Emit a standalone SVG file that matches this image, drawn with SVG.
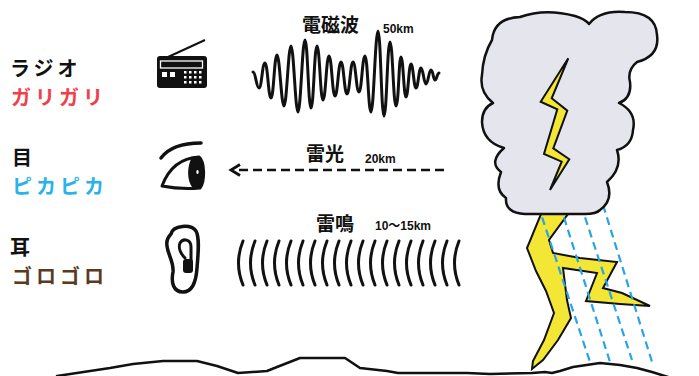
<svg xmlns="http://www.w3.org/2000/svg" width="699" height="376" viewBox="0 0 699 376">
  <style>
    .lbl { font-family: "Noto Sans CJK JP", "Noto Sans", sans-serif; font-weight: 700; font-size: 20px; letter-spacing: 4px; }
    .ttl { font-family: "Noto Sans CJK JP", sans-serif; font-weight: 700; font-size: 19px; fill: #111; }
    .dist { font-family: "Liberation Sans", "Noto Sans CJK JP", sans-serif; font-weight: 700; font-size: 12px; fill: #111; }
    .ink { fill: none; stroke: #111; stroke-linecap: round; stroke-linejoin: round; }
    .bolt { fill: #f4e634; stroke: #111; stroke-width: 2; stroke-linejoin: miter; }
    .rain { fill: none; stroke: #2aa3e6; stroke-width: 2.2; stroke-dasharray: 8 5; }
    .arc { fill: none; stroke: #111; stroke-width: 3; stroke-linecap: round; }
  </style>

  <!-- left labels -->
  <g id="label-radio">
    <text class="lbl" x="10" y="76" fill="#111">ラジオ</text>
    <text class="lbl" x="11" y="105" fill="#f0404a">ガリガリ</text>
  </g>
  <g id="label-eye">
    <text class="lbl" x="12" y="165" fill="#111">目</text>
    <text class="lbl" x="12" y="194" fill="#2cb2ea">ピカピカ</text>
  </g>
  <g id="label-ear">
    <text class="lbl" x="10" y="255" fill="#111">耳</text>
    <text class="lbl" x="12" y="284" fill="#5b3b1f">ゴロゴロ</text>
  </g>

  <!-- radio icon -->
  <g id="radio">
    <line x1="168" y1="57" x2="205" y2="40" stroke="#111" stroke-width="2"/>
    <rect x="157" y="56" width="50" height="32" rx="3" fill="#111"/>
    <rect x="160.5" y="61" width="42" height="7" fill="none" stroke="#fff" stroke-width="1.3"/>
    <rect x="162" y="72" width="5" height="5" fill="#fff"/>
    <rect x="170" y="72" width="5" height="5" fill="#fff"/>
    <g fill="#fff">
      <rect x="184" y="71" width="2.5" height="2.5"/><rect x="189" y="71" width="2.5" height="2.5"/><rect x="194" y="71" width="2.5" height="2.5"/><rect x="199" y="71" width="2.5" height="2.5"/>
      <rect x="184" y="76" width="2.5" height="2.5"/><rect x="189" y="76" width="2.5" height="2.5"/><rect x="194" y="76" width="2.5" height="2.5"/><rect x="199" y="76" width="2.5" height="2.5"/>
      <rect x="184" y="81" width="2.5" height="2.5"/><rect x="189" y="81" width="2.5" height="2.5"/><rect x="194" y="81" width="2.5" height="2.5"/><rect x="199" y="81" width="2.5" height="2.5"/>
    </g>
  </g>

  <!-- eye icon -->
  <g id="eye">
    <path class="ink" d="M161,158 Q172,143 201,143" stroke-width="3.5"/>
    <path d="M191,159 C187,168 187,180 192,187 L200,188 C205,182 205,162 199,157 Z" fill="#111"/>
    <ellipse cx="197.5" cy="172" rx="1.2" ry="2" fill="#fff"/>
    <path class="ink" d="M162,186 C168,170 180,158 199,157 C205,162 205,182 200,188 C188,189 172,188 162,186 Z" stroke-width="3"/>
  </g>

  <!-- ear icon -->
  <g id="ear">
    <path class="ink" d="M171,234 C173,225 191,224 196,231 C200,238 198,255 197,268 C196,283 192,292 183,292 C173,292 171,282 173,272 C174,262 168,255 167,246 C166,240 168,237 171,234 Z" stroke-width="3.5" fill="#fff"/>
    <path class="ink" d="M191,262 L191,247 C191,239 183,238 180,243 C178,248 181,254 185,258" stroke-width="3"/>
    <rect x="183" y="259" width="10" height="14" rx="3" fill="#111"/>
  </g>

  <!-- electromagnetic wave -->
  <g id="em-wave">
    <text class="ttl" x="302" y="32" font-size="20">電磁波</text>
    <text class="dist" x="383" y="33">50km</text>
    <path class="ink" stroke-width="3" d="M253,72 C255.7,72 256.3,88 259,88 S262.3,63 265,63 S268.3,98 271,98 S274.3,55 277,55 S281.3,106 284,106 S288.3,46 291,46 S295.3,112 298,112 S302.3,40 305,40 S308.3,108 311,108 S314.3,46 317,46 S320.3,100 323,100 S326.3,56 329,56 S332.3,96 335,96 S338.3,62 341,62 S344.3,94 347,94 S350.3,62 353,62 S356.3,92 359,92 S362.3,56 365,56 S368.3,112 371,112 S375.3,31 378,31 S381.3,116 384,116 S387.3,42 390,42 S393.3,106 396,106 S398.8,57 401,57 S403.8,97 406,97 S408.8,64 411,64 S413.8,88 416,88 S418.8,68 421,68 S423.8,84 426,84 S428.8,70 431,70 S433.2,80 435,80 S437.2,73 439,73"/>
  </g>

  <!-- light -->
  <g id="light">
    <text class="ttl" x="306" y="161">雷光</text>
    <text class="dist" x="365" y="163">20km</text>
  </g>

  <!-- thunder sound -->
  <g id="sound">
    <text class="ttl" x="316" y="231">雷鳴</text>
    <text class="dist" x="375" y="230">10～15km</text>
    <g id="sound-arcs">
      <path class="arc" d="M243,241 Q234,263 243,285"/>
      <path class="arc" d="M255,241 Q246,263 255,285"/>
      <path class="arc" d="M267,241 Q258,263 267,285"/>
      <path class="arc" d="M279,241 Q270,263 279,285"/>
      <path class="arc" d="M291,241 Q282,263 291,285"/>
      <path class="arc" d="M303,241 Q294,263 303,285"/>
      <path class="arc" d="M315,241 Q306,263 315,285"/>
      <path class="arc" d="M327,241 Q318,263 327,285"/>
      <path class="arc" d="M339,241 Q330,263 339,285"/>
      <path class="arc" d="M351,241 Q342,263 351,285"/>
      <path class="arc" d="M363,241 Q354,263 363,285"/>
      <path class="arc" d="M375,241 Q366,263 375,285"/>
      <path class="arc" d="M387,241 Q378,263 387,285"/>
      <path class="arc" d="M399,241 Q390,263 399,285"/>
      <path class="arc" d="M411,241 Q402,263 411,285"/>
      <path class="arc" d="M423,241 Q414,263 423,285"/>
      <path class="arc" d="M435,241 Q426,263 435,285"/>
      <path class="arc" d="M447,241 Q438,263 447,285"/>
      <path class="arc" d="M459,241 Q450,263 459,285"/>
    </g>
  </g>

  <!-- thunderstorm -->
  <g id="storm">
    <polygon class="bolt" points="541,214 568,214 549,240 553,253 580,258 617,262 603,288 622,293 650,306 620,304 586,301 597,273 563,268 567,300 571,318 558,340 543,360 532,369 533,361 544,340 554,313 546,291 536,271 527,248"/>
    <g id="rain">
      <line class="rain" x1="538" y1="205" x2="590" y2="362"/>
      <line class="rain" x1="560" y1="205" x2="610" y2="362"/>
      <line class="rain" x1="581" y1="205" x2="632" y2="360"/>
      <line class="rain" x1="603" y1="205" x2="653" y2="365"/>
    </g>
    <path id="cloud" d="M492,40 Q494,18 520,17 Q545,8 575,16 Q585,19 589,24 Q600,10 625,12 Q656,12 657,35 Q660,56 637,62 Q627,70 630,82 Q632,98 619,103 Q637,112 633,130 Q632,146 617,150 Q623,168 607,182 Q614,200 600,210 Q596,214 585,214 L525,214 Q505,213 506,198 Q494,190 501,172 Q488,162 504,148 Q483,142 482,122 Q482,108 493,103 Q479,92 482,75 Q483,55 492,40 Z" fill="#e5e5ee" stroke="#111" stroke-width="2.5" stroke-linejoin="round"/>
    <polygon class="bolt" points="568.3,58.3 540.7,101.7 557.3,109.3 544,154 561.7,161.7 550,190 569.3,159.3 553.3,148.3 567.3,110.7 551.7,98.3"/>
  </g>

  <!-- ground -->
  <g id="ground">
    <path class="ink" stroke-width="2.5" d="M57,376 L110,368 L133,364 L163,361 L197,361 L217,366 L238,373 L267,371 L277,367 L300,358 L345,358 L360,368 L387,371 L398,373 L467,373 L490,374 L532,373 L545,372 L552,373 L560,371 L573,367 L600,363 L620,365 L637,368 L652,372 L668,377"/>
  </g>

  <!-- connectors -->
  <g id="connectors">
    <line x1="239" y1="170" x2="445" y2="170" stroke="#111" stroke-width="2.5" stroke-dasharray="9 5"/>
    <polyline points="240,164.5 231,170 240,175.5" fill="none" stroke="#111" stroke-width="2.8" stroke-linejoin="miter"/>
  </g>
</svg>
